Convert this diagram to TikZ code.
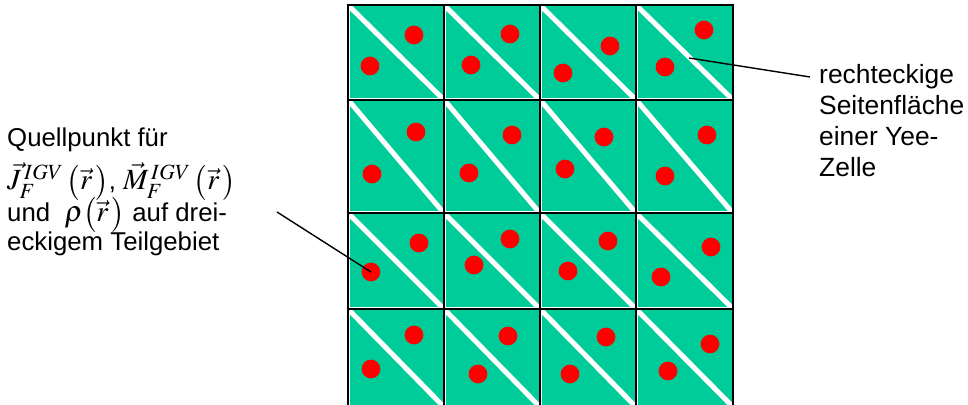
\documentclass[tikz,border=0pt]{standalone}
\usepackage{mathptmx}
\usepackage[no-math]{fontspec}
\setmainfont{Liberation Sans}

\definecolor{cellgreen}{RGB}{0,204,153}
\definecolor{dotred}{RGB}{255,0,0}

\newcommand{\bigmath}[1]{{\fontsize{25}{25}\selectfont$#1$}}
\newcommand{\quellfont}{\fontsize{22}{24.7}\selectfont\lineskiplimit=-100pt\relax}

\tikzset{
  dot/.style={circle, fill=dotred, inner sep=0pt, minimum size=16pt},
  gridline/.style={line width=1.5pt},
  stripe/.style={white, line width=4.3pt},
  pointer/.style={line width=1.2pt},
  sidetext/.style={align=left, inner sep=0pt, anchor=north west}
}

\begin{document}
\begin{tikzpicture}[x=0.03cm, y=-0.03cm]
        \useasboundingbox (0,0) rectangle (968,405);

        % Yee faces: green square, white diagonal
        \foreach \ya/\yb in {5/100, 100/213, 213/309, 309/407}
          \foreach \xa/\xb in {348/444, 444/540, 540/636, 636/733} {
            \fill[cellgreen] (\xa+1.5,\ya+1.5) rectangle (\xb-1.5,\yb-1.5);
            \draw[stripe] (\xa+1.5,\ya+1.5) -- (\xb-1.5,\yb-1.5);
          }

        % Grid lines
        \foreach \x in {348,444,540,636,733}
          \draw[gridline] (\x,5) -- (\x,407);
        \foreach \y in {5,100,213,309}
          \draw[gridline] (347.3,\y) -- (733.7,\y);

        % Source points, two per face
        \foreach \x/\y [count=\i] in {414/35, 370/66, 510/34, 471/65, 610/46, 563/73, 704/30, 665/67,
                                      416/132, 372/174, 512/135, 469/173, 604/137, 565/169, 707/135, 665/176,
                                      419/243, 371/272, 510/239, 474/265, 608/241, 568/271, 711/247, 661/277,
                                      414/335, 371/369, 508/336, 478/374, 606/337, 570/374, 710/344, 668/371}
          \node[dot] (q\i) at (\x,\y) {};

        % Left side: source point label
        \node[sidetext, font=\quellfont] (quelle) at (7,128)
          {Quellpunkt für\\[12pt]
           \bigmath{\vec{J}_F^{\,IGV}\,\bigl(\vec{r}\,\bigr)},\ \bigmath{\vec{M}_F^{\,IGV}\,\bigl(\vec{r}\,\bigr)}\\[2.6pt]
           und \ \bigmath{\rho\bigl(\vec{r}\,\bigr)} auf drei-\\
           eckigem Teilgebiet};

        % Right side: face label
        \node[sidetext, font=\fontsize{22.5}{26.5}\selectfont] (seite) at (819,64)
          {rechteckige\\Seitenfläche\\einer Yee-\\Zelle};

        % Pointers
        \coordinate (qtip) at (277,212);
        \draw[pointer] (qtip) -- (q18.center);
        \coordinate (ftip) at (689,58);
        \coordinate (stip) at (810,77);
        \draw[pointer] (ftip) -- (stip);
    \end{tikzpicture}
\end{document}
